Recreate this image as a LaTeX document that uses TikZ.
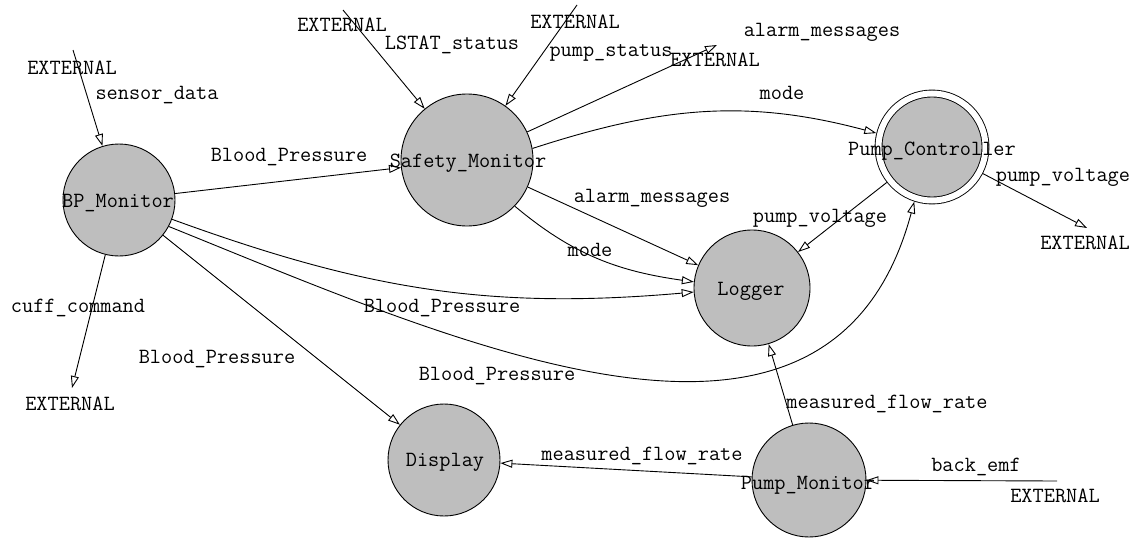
\documentclass[tikz,border=0pt]{standalone}
\usepackage{fontspec}
\usepackage{tikz}
\usetikzlibrary{arrows.meta}
\definecolor{bubble}{RGB}{190,190,190}

\begin{document}
\begin{tikzpicture}[x=1pt, y=-1pt, line width=0.9pt,
    proc/.style={circle, draw, fill=bubble, inner sep=0pt, minimum size=#1},
    txt/.style={font=\fontsize{21.7}{24}\selectfont\ttfamily, inner sep=0pt},
    flow/.style={-{Triangle[open, length=12pt, width=8pt]}}]
    \useasboundingbox (0,0) rectangle (1134,538);
    % processes
    \node [proc=112pt] (bp) at (119,200) {};
    \node [proc=132pt] (safety) at (467,160) {};
    \node [proc=107pt, double, double distance=6pt, outer sep=3.9pt] (ctrl) at (932,147) {};
    \node [proc=116pt] (logger) at (752,288) {};
    \node [proc=112pt] (display) at (444,460) {};
    \node [proc=114pt] (pmon) at (809,480) {};
    \node [txt] (bpName) at (118,203) {BP\_Monitor};
    \node [txt] (safetyName) at (468,163) {Safety\_Monitor};
    \node [txt] (ctrlName) at (932,151) {Pump\_Controller};
    \node [txt] (loggerName) at (751,291) {Logger};
    \node [txt] (displayName) at (445,462) {Display};
    \node [txt] (pmonName) at (808,485) {Pump\_Monitor};
    % terminators
    \coordinate (extSensor) at (73,50);
    \coordinate (extLstat) at (343,10);
    \coordinate (extPumpSt) at (577,5);
    \coordinate (extAlarm) at (717,45);
    \coordinate (extVolt) at (1087,228);
    \coordinate (extCuff) at (72,388);
    \coordinate (extEmf) at (1057,481);
    \node [txt] (extSensorName) at (72,68) {EXTERNAL};
    \node [txt] (extLstatName) at (342,25) {EXTERNAL};
    \node [txt] (extPumpStName) at (575,22) {EXTERNAL};
    \node [txt] (extAlarmName) at (715,60) {EXTERNAL};
    \node [txt] (extVoltName) at (1085,243) {EXTERNAL};
    \node [txt] (extCuffName) at (70,404) {EXTERNAL};
    \node [txt] (extEmfName) at (1055,496) {EXTERNAL};
    % flows
    \draw [flow] (extSensor) -- (bp);
    \draw [flow] (bp) -- (safety);
    \draw [flow] (extLstat) -- (safety);
    \draw [flow] (extPumpSt) -- (safety);
    \draw [flow] (safety.25) -- (extAlarm);
    \draw [flow] (safety.10) to[out=18, in=165] (ctrl.166);
    \draw [flow] (safety.-24) -- (logger.157);
    \draw [flow] (safety.-44) to[out=-40, in=172] (logger.174);
    \draw [flow] (ctrl) -- (extVolt);
    \draw [flow] (ctrl) -- (logger);
    \draw [flow] (bp.-20) to[out=-20, in=185] (logger.-176);
    \draw [flow] (bp.-28) to[out=-22, in=-105, looseness=1.1] (ctrl.-108);
    \draw [flow] (bp) -- (display);
    \draw [flow] (bp) -- (extCuff);
    \draw [flow] (pmon) -- (logger);
    \draw [flow] (pmon) -- (display);
    \draw [flow] (extEmf) -- (pmon);
    \node [txt] (sensorLbl) at (157,95) {sensor\_data};
    \node [txt] (bpSafetyLbl) at (289,157) {Blood\_Pressure};
    \node [txt] (lstatLbl) at (452,45) {LSTAT\_status};
    \node [txt] (pumpStLbl) at (611,53) {pump\_status};
    \node [txt] (alarmExtLbl) at (822,32) {alarm\_messages};
    \node [txt] (modeCtrlLbl) at (782,93) {mode};
    \node [txt] (voltExtLbl) at (1063,177) {pump\_voltage};
    \node [txt] (voltLogLbl) at (820,218) {pump\_voltage};
    \node [txt] (alarmLogLbl) at (652,198) {alarm\_messages};
    \node [txt] (modeLogLbl) at (590,250) {mode};
    \node [txt] (bpLogLbl) at (442,308) {Blood\_Pressure};
    \node [txt] (bpCtrlLbl) at (497,376) {Blood\_Pressure};
    \node [txt] (bpDispLbl) at (217,359) {Blood\_Pressure};
    \node [txt] (cuffLbl) at (78,308) {cuff\_command};
    \node [txt] (flowLogLbl) at (887,404) {measured\_flow\_rate};
    \node [txt] (flowDispLbl) at (642,456) {measured\_flow\_rate};
    \node [txt] (emfLbl) at (976,467) {back\_emf};
\end{tikzpicture}
\end{document}
